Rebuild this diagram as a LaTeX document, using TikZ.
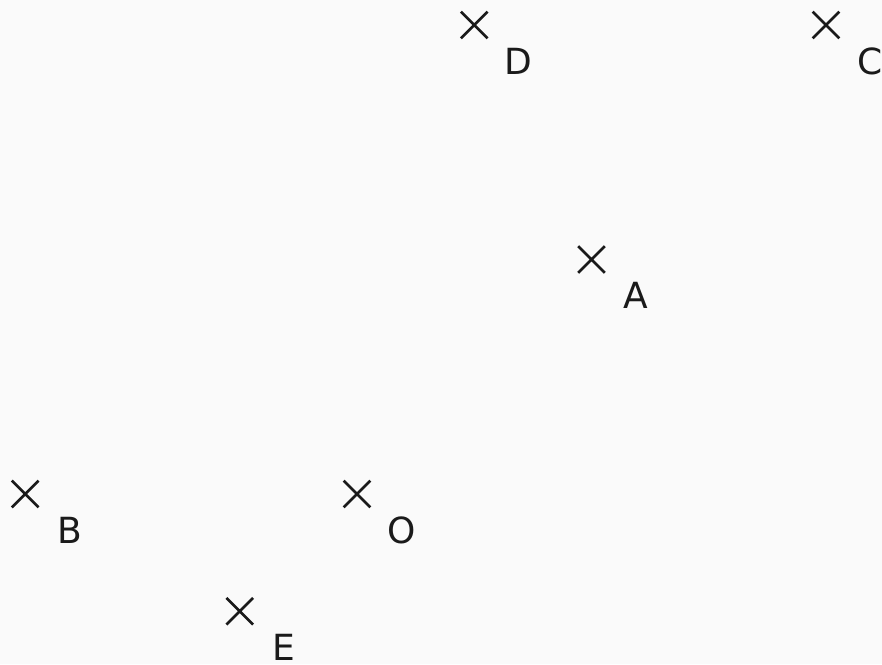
\documentclass[tikz,border=0pt]{standalone}
\usepackage{fontspec}
\setmainfont{DejaVu Sans}
\usetikzlibrary{shapes.misc}
\definecolor{paper}{HTML}{FAFAFA}
\definecolor{ink}{HTML}{1A1A1A}

\begin{document}
\begin{tikzpicture}[
  x=117.25pt, y=117.25pt,
  point/.style={cross out, draw=ink, minimum size=24pt, inner sep=0pt, line width=2.7pt},
  lbl/.style={font=\fontsize{36}{43}\selectfont, text=ink, inner sep=0pt}
]
  \fill[paper] (-357pt,-170pt) rectangle (525pt,494pt);
  \useasboundingbox (-357pt,-170pt) rectangle (525pt,494pt);
  % points
  \node[point] (O) at (0,0) {};
  \node[point] (A) at (2,2) {};
  \node[point] (B) at (-2.83,0) {};
  \node[point] (C) at (4,4) {};
  \node[point] (D) at (1,4) {};
  \node[point] (E) at (-1,-1) {};
  % names
  \foreach \p in {O,A,B,C,D,E}
    \node[lbl] (\p l) at ([shift={(44.5pt,-36pt)}]\p) {\p};
\end{tikzpicture}
\end{document}
